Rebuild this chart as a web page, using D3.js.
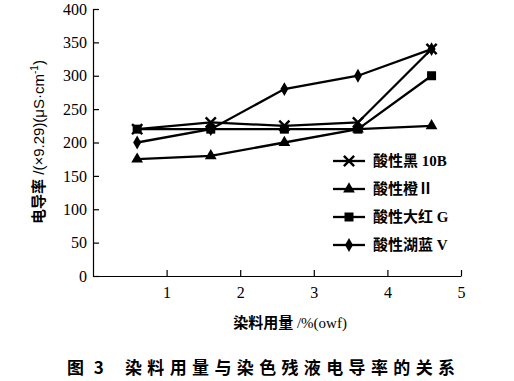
<!DOCTYPE html>
<html><head><meta charset="utf-8">
<script src="https://cdn.jsdelivr.net/npm/d3@7"></script>
<style>
body{margin:0;background:#fff;}
svg{display:block;}
</style></head>
<body>
<svg id="chart" width="514" height="381"></svg>
<script>
const xValues = [0.6, 1.6, 2.6, 3.6, 4.6];
const seriesNames = ["酸性黑 10B", "酸性橙Ⅱ", "酸性大红 G", "酸性湖蓝 V"];
const seriesSymbols = ["times", "triangle", "square", "diamond"];
const black10B = [220, 230, 225, 230, 340];
const orangeII = [175, 180, 200, 220, 225];
const redG = [220, 220, 220, 220, 300];
const blueV = [200, 220, 280, 300, 340];
const seriesValues = [black10B, orangeII, redG, blueV];
const xTicks = [1, 2, 3, 4, 5];
const yTicks = [0, 50, 100, 150, 200, 250, 300, 350, 400];
const xLabelBold = "染料用量";
const xLabelRest = " /%(owf)";
const yLabelBold = "电导率";
const yLabelRest = " /(×9.29)(μS·cm";
const yLabelSup = "-1";
const yLabelEnd = ")";
const titleNum = "图 3";
const titleText = "染料用量与染色残液电导率的关系";

const svg = d3.select("#chart");
const x = d3.scaleLinear().domain([0, 5]).range([93, 461]);
const y = d3.scaleLinear().domain([0, 400]).range([276, 9]);
const serif = "'Liberation Serif','Times New Roman',serif";
const cjk = "'Liberation Serif','Noto Sans CJK SC',sans-serif";
const cjkSans = "'Noto Sans CJK SC',sans-serif";

// axes
const yAxis = svg.append("g").attr("transform", `translate(${x(0)},0)`)
  .call(d3.axisLeft(y).tickValues(yTicks).tickFormat(d3.format("d")).tickSizeInner(-6).tickSizeOuter(0).tickPadding(6));
const xAxis = svg.append("g").attr("transform", `translate(0,${y(0)})`)
  .call(d3.axisBottom(x).tickValues(xTicks).tickFormat(d3.format("d")).tickSizeInner(-6).tickSizeOuter(0).tickPadding(11));
[yAxis, xAxis].forEach(g => {
  g.selectAll("path,line").attr("stroke", "#000").attr("stroke-width", 1.2);
  g.selectAll("text").attr("fill", "#000").style("font-family", serif).style("font-size", "16px");
});

// lines
const line = d3.line().x((d, i) => x(xValues[i])).y(d => y(d));
const symGen = {
  times: d3.symbol(d3.symbolTimes || d3.symbolCross, 70),
  triangle: d3.symbol(d3.symbolTriangle, 60),
  square: d3.symbol(d3.symbolSquare, 81),
  diamond: d3.symbol(d3.symbolDiamond, 55)
};
function drawSymbol(g, type, cx, cy) {
  const p = g.append("path").attr("d", symGen[type]()).attr("transform", `translate(${cx},${cy})`);
  if (type === "times") {
    p.attr("fill", "none").attr("stroke", "#000").attr("stroke-width", 2.4);
  } else {
    p.attr("fill", "#000");
  }
}
seriesValues.forEach((vals) => {
  svg.append("path").datum(vals).attr("d", line)
    .attr("fill", "none").attr("stroke", "#000").attr("stroke-width", 2.3);
});
seriesValues.forEach((vals, si) => {
  const g = svg.append("g");
  vals.forEach((v, i) => drawSymbol(g, seriesSymbols[si], x(xValues[i]), y(v)));
});

// legend
const legendY = [161, 189, 217, 245];
seriesNames.forEach((name, i) => {
  const g = svg.append("g");
  g.append("line").attr("x1", 333).attr("x2", 365).attr("y1", legendY[i]).attr("y2", legendY[i])
    .attr("stroke", "#000").attr("stroke-width", 2.3);
  drawSymbol(g, seriesSymbols[i], 349, legendY[i]);
  g.append("text").attr("x", 373).attr("y", legendY[i]).attr("dy", "0.36em")
    .style("font-family", cjk).style("font-size", "15px").style("font-weight", "bold")
    .text(name);
});

// axis titles
const xl = svg.append("text").attr("x", 290).attr("y", 323).attr("dy", "0.35em").attr("text-anchor", "middle")
  .style("font-size", "15px");
xl.append("tspan").style("font-family", cjkSans).style("font-weight", "bold").text(xLabelBold);
xl.append("tspan").style("font-family", serif).text(xLabelRest);

const yl = svg.append("text").attr("transform", "translate(39,142) rotate(-90)").attr("dy", "0.35em")
  .attr("text-anchor", "middle").style("font-size", "15px");
yl.append("tspan").style("font-family", cjkSans).style("font-weight", "bold").text(yLabelBold);
yl.append("tspan").style("font-family", "'Liberation Sans',Arial,sans-serif").text(yLabelRest);
yl.append("tspan").style("font-family", "'Liberation Sans',Arial,sans-serif").style("font-size", "10px")
  .attr("dy", "-0.6em").text(yLabelSup);
yl.append("tspan").style("font-family", "'Liberation Sans',Arial,sans-serif").attr("dy", "0.4em").text(yLabelEnd);

// caption
svg.append("text").attr("x", 67).attr("y", 368).attr("dy", "0.35em")
  .style("font-family", cjkSans).style("font-size", "17px").style("font-weight", "bold")
  .style("letter-spacing", "3px").text(titleNum);
svg.append("text").attr("x", 125).attr("y", 368).attr("dy", "0.35em")
  .attr("textLength", 330).attr("lengthAdjust", "spacing")
  .style("font-family", cjkSans).style("font-size", "17px").style("font-weight", "bold")
  .text(titleText);
</script>
</body></html>
